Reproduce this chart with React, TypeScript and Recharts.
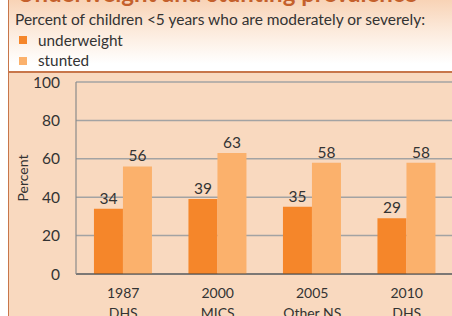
import React from 'react';
import { BarChart, Bar, XAxis, YAxis, CartesianGrid, LabelList, Label } from 'recharts';

const years = ['1987', '2000', '2005', '2010'];
const sources = ['DHS', 'MICS', 'Other NS', 'DHS'];
const underweight = [34, 39, 35, 29];
const stunted = [56, 63, 58, 58];
const yTicks = [0, 20, 40, 60, 80, 100];

const data = years.map((y, i) => ({
  cat: y + '|' + sources[i],
  underweight: underweight[i],
  stunted: stunted[i],
}));

const FONT = 'Lato, "Open Sans", sans-serif';
const TEXT = '#333333';
const UW = '#F5862A';
const ST = '#FBB16C';
const BG = '#F9D9BF';
const BORDER = '#C8764A';

const XTick = (props: any) => {
  const { x, y, payload } = props;
  const [a, b] = String(payload.value).split('|');
  return (
    <text x={x} y={y + 16} textAnchor="middle" fill={TEXT} fontSize={14} fontFamily={FONT}>
      <tspan x={x}>{a}</tspan>
      <tspan x={x} dy={20}>{b}</tspan>
    </text>
  );
};

export default function App() {
  return (
    <div style={{ position: 'absolute', left: 0, top: 0, width: 452, height: 316, overflow: 'hidden', background: '#fff', fontFamily: FONT }}>
      <div style={{ position: 'absolute', left: 9, top: 0, width: 443, height: 71, background: 'linear-gradient(#F8D3B6 0%, #FCEBDD 45%, #ffffff 90%)' }} />
      <div style={{ position: 'absolute', left: 9, top: 72, width: 443, height: 244, background: BG }} />
      <div style={{ position: 'absolute', left: 8, top: 71, width: 444, height: 1.5, background: BORDER }} />
      <div style={{ position: 'absolute', left: 8, top: 0, width: 1.2, height: 316, background: BORDER }} />
      <div style={{ position: 'absolute', left: 17, top: -22, fontSize: 24, fontWeight: 700, color: '#C4602C', whiteSpace: 'nowrap', lineHeight: '30px' }}>
        Underweight and stunting prevalence
      </div>
      <div style={{ position: 'absolute', left: 15, top: 9, fontSize: 15.5, color: TEXT, whiteSpace: 'nowrap', lineHeight: '20px' }}>
        Percent of children &lt;5 years who are moderately or severely:
      </div>
      <div style={{ position: 'absolute', left: 19, top: 36, width: 8, height: 8, background: UW }} />
      <div style={{ position: 'absolute', left: 38, top: 30, fontSize: 15.3, color: TEXT, lineHeight: '20px' }}>underweight</div>
      <div style={{ position: 'absolute', left: 19, top: 57, width: 8, height: 8, background: ST }} />
      <div style={{ position: 'absolute', left: 38, top: 50, fontSize: 15.3, color: TEXT, lineHeight: '20px' }}>stunted</div>
      <div style={{ position: 'absolute', left: 0, top: 0 }}>
        <BarChart width={460} height={316} data={data} margin={{ top: 82, right: 6, bottom: 0, left: 0 }} barCategoryGap="19%" barGap={0}>
          <CartesianGrid horizontal vertical={false} stroke="#A3A3A3" strokeWidth={1.5} />
          <XAxis dataKey="cat" height={42} tickLine={false} axisLine={{ stroke: '#404040', strokeWidth: 1.2 }} tick={<XTick />} interval={0} />
          <YAxis width={76} domain={[0, 100]} ticks={yTicks} tickLine={false} tickMargin={10}
            axisLine={{ stroke: '#8A8A8A', strokeWidth: 1.2 }}
            tick={{ fill: TEXT, fontSize: 15.5, fontFamily: FONT }}>
            <Label content={() => (
              <text x={22.5} y={178} transform="rotate(-90 22.5 178)" textAnchor="middle" dominantBaseline="central" fill={TEXT} fontSize={14} fontFamily={FONT}>Percent</text>
            )} />
          </YAxis>
          <Bar dataKey="underweight" fill={UW} isAnimationActive={false}>
            <LabelList dataKey="underweight" position="top" fill={TEXT} fontSize={15.5} fontFamily={FONT} />
          </Bar>
          <Bar dataKey="stunted" fill={ST} isAnimationActive={false}>
            <LabelList dataKey="stunted" position="top" fill={TEXT} fontSize={15.5} fontFamily={FONT} />
          </Bar>
        </BarChart>
      </div>
    </div>
  );
}
